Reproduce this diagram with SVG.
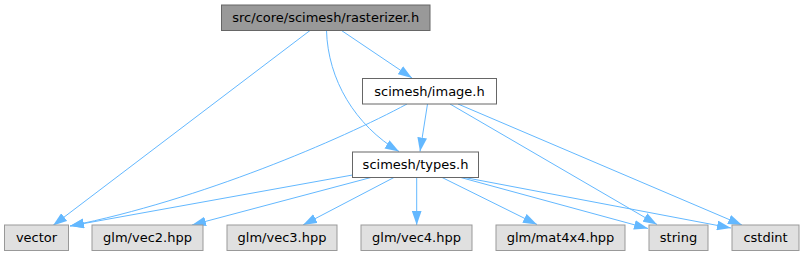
<svg xmlns="http://www.w3.org/2000/svg" width="805" height="256" viewBox="0 0 805 256">
<style>
.n text{font-family:"DejaVu Sans","Liberation Sans",sans-serif;font-size:13px;fill:#000;text-anchor:middle}
.main rect{fill:#999999;stroke:#666666;stroke-width:1}
.doc rect{fill:#ffffff;stroke:#666666;stroke-width:1}
.ext rect{fill:#e0e0e0;stroke:#999999;stroke-width:1}
#edges path{fill:none;stroke:#63b8ff;stroke-width:1;marker-end:url(#arr)}
</style>
<defs>
<marker id="arr" markerUnits="userSpaceOnUse" markerWidth="14" markerHeight="10" refX="13" refY="4.5" orient="auto" viewBox="0 0 13 9">
<path d="M0,0 L13,4.5 L0,9 z" fill="#63b8ff"/>
</marker>
</defs>
<rect width="805" height="256" fill="#ffffff"/>
<g id="edges">
<path d="M310,30.5 L53,225.5"/>
<path d="M326.5,30.5 C328,80 355,125 399,151.5"/>
<path d="M341.5,30.5 L412,78"/>
<path d="M407,104 C340,140 200,200 70,226"/>
<path d="M352.5,175 L70,226"/>
<path d="M427.5,104 L420,151.5"/>
<path d="M450,104 L657,224.5"/>
<path d="M458,104 L742,225"/>
<path d="M371.7,177.3 L192,225"/>
<path d="M394.3,177.3 L303,225"/>
<path d="M416.7,177.5 L416.7,225"/>
<path d="M441.7,177.3 L537,224.5"/>
<path d="M460,177.3 L648,228.5"/>
<path d="M462,177 L731,228"/>
</g>
<g id="node-rasterizer" class="n main"><rect x="221.5" y="5" width="208.5" height="25.5"/><text x="325.75" y="22.2">src/core/scimesh/rasterizer.h</text></g>
<g id="node-image" class="n doc"><rect x="362.5" y="78.5" width="134" height="25.5"/><text x="429.5" y="95.7">scimesh/image.h</text></g>
<g id="node-types" class="n doc"><rect x="352.5" y="152" width="126" height="25.5"/><text x="415.5" y="169.2">scimesh/types.h</text></g>
<g id="node-vector" class="n ext"><rect x="4.5" y="225" width="64" height="25.5"/><text x="36.5" y="242.2">vector</text></g>
<g id="node-vec2" class="n ext"><rect x="92" y="225" width="111" height="25.5"/><text x="147.5" y="242.2">glm/vec2.hpp</text></g>
<g id="node-vec3" class="n ext"><rect x="227" y="225" width="110" height="25.5"/><text x="282" y="242.2">glm/vec3.hpp</text></g>
<g id="node-vec4" class="n ext"><rect x="361" y="225" width="111" height="25.5"/><text x="416.5" y="242.2">glm/vec4.hpp</text></g>
<g id="node-mat4x4" class="n ext"><rect x="496" y="225" width="129" height="25.5"/><text x="560.5" y="242.2">glm/mat4x4.hpp</text></g>
<g id="node-string" class="n ext"><rect x="649" y="225" width="59" height="25.5"/><text x="678.5" y="242.2">string</text></g>
<g id="node-cstdint" class="n ext"><rect x="732" y="225" width="67" height="25.5"/><text x="765.5" y="242.2">cstdint</text></g>
</svg>
